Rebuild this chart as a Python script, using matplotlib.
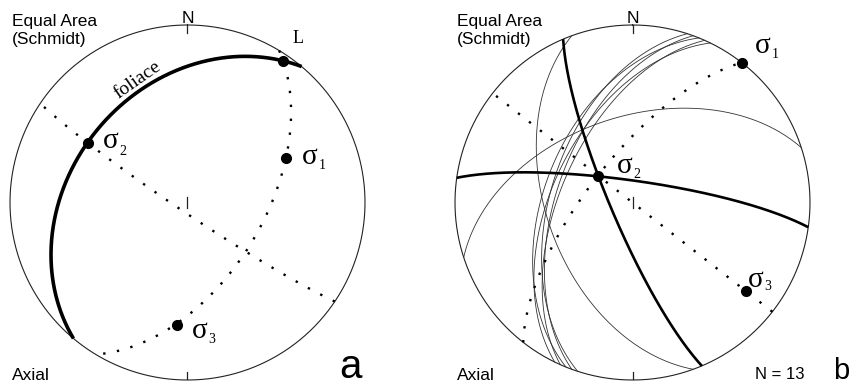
import numpy as np
import matplotlib.pyplot as plt

# figure size in pixels
W, H = 849, 385

# ---- panel a: foliation, lineation L and principal stresses (trend, plunge)
fol_strike, fol_dip = 220, 35
lin_trend, lin_plunge = 33.9, 4.4
sig_a_trend = [65.8, 301.1, 185.0]
sig_a_plunge = [39.2, 35.0, 31.3]

# ---- panel b: measured fault planes (strike RHR, dip) and stresses
thick_strike = [157, 278]
thick_dip = [80, 80]
thin_strike = [160, 252, 198, 200, 202, 204, 206]
thin_dip = [50, 50, 52, 55, 49, 57, 53]
sig_b_trend = [38.0, 307.7, 128.0]
sig_b_plunge = [0.0, 70.1, 20.1]
n_planes = 13

sig_names = ['1', '2', '3']

plt.rcParams['font.family'] = 'Liberation Sans'


def line_xy(trend, plunge):
    # lower hemisphere equal-area (Schmidt) projection
    t = np.radians(trend)
    p = np.radians(plunge)
    r = np.sqrt(2) * np.sin((np.pi / 2 - p) / 2)
    return r * np.sin(t), r * np.cos(t)


def plane_xy(strike, dip, n=400):
    s = np.radians(strike)
    d = np.radians(dip)
    rake = np.linspace(0, np.pi, n)
    sv = np.array([np.sin(s), np.cos(s), 0.0])
    dd = s + np.pi / 2
    dv = np.array([np.sin(dd) * np.cos(d), np.cos(dd) * np.cos(d), np.sin(d)])
    v = np.outer(np.cos(rake), sv) + np.outer(np.sin(rake), dv)
    trend = np.degrees(np.arctan2(v[:, 0], v[:, 1]))
    plunge = np.degrees(np.arcsin(np.clip(v[:, 2], -1, 1)))
    return line_xy(trend, plunge)


def pole_plane(trend, plunge):
    # plane (strike, dip) whose pole is the given line
    return (trend + 180 - 90) % 360, 90 - plunge


def stereo_axes(fig, cx, cy, R):
    ax = fig.add_axes([(cx - R) / W, (H - cy - R) / H, 2 * R / W, 2 * R / H])
    ax.set_xlim(-1, 1)
    ax.set_ylim(-1, 1)
    ax.axis('off')
    a = np.linspace(0, 2 * np.pi, 500)
    ax.plot(np.sin(a), np.cos(a), color='#222222', lw=0.8, clip_on=False)
    ax.plot([0, 0], [1, 0.955], color='#222222', lw=0.9)
    ax.plot([0, 0], [-1, -0.955], color='#222222', lw=0.9)
    ax.plot([0, 0], [-0.03, 0.03], color='#222222', lw=0.9)
    return ax


def dotted(ax, strike, dip):
    x, y = plane_xy(strike, dip)
    ax.plot(x, y, color='black', lw=1.7, linestyle=(0, (1, 4.9)),
            dash_capstyle='butt', clip_on=False)


def sigma_label(ax, x, y, name, off_s, off_n):
    ax.annotate('σ', xy=(x, y), xytext=(off_s[0], -off_s[1]),
                textcoords='offset pixels', fontsize=21,
                family='Liberation Serif', ha='left', va='baseline')
    ax.annotate(name, xy=(x, y), xytext=(off_n[0], -off_n[1]),
                textcoords='offset pixels', fontsize=10,
                family='Liberation Serif', ha='left', va='baseline')


def ftext(x, y, s, **kw):
    fig.text(x / W, 1 - y / H, s, **kw)


fig = plt.figure(figsize=(W / 100, H / 100), dpi=100)

# ================= panel a
ax1 = stereo_axes(fig, 187.5, 202.5, 177.5)

s2_strike, s2_dip = pole_plane(sig_a_trend[1], sig_a_plunge[1])
dotted(ax1, s2_strike, s2_dip)
l_strike, l_dip = pole_plane(lin_trend, lin_plunge)
dotted(ax1, l_strike, l_dip)

fx, fy = plane_xy(fol_strike, fol_dip)
ax1.plot(fx, fy, color='black', lw=2.6, solid_capstyle='butt')

lx, ly = line_xy(lin_trend, lin_plunge)
ax1.plot(lx, ly, 'o', color='black', ms=7, clip_on=False)

sx, sy = line_xy(np.array(sig_a_trend), np.array(sig_a_plunge))
ax1.plot(sx, sy, 'o', color='black', ms=7, clip_on=False)
offs_a = [((16.2, 5.7), (33.5, 10.7)),
          ((14.2, 5.3), (31.5, 12.3)),
          ((14.8, 13), (31.3, 18))]
for i in range(3):
    sigma_label(ax1, sx[i], sy[i], sig_names[i], offs_a[i][0], offs_a[i][1])

ftext(11.7, 26, 'Equal Area', fontsize=12.5, va='baseline')
ftext(11.7, 44, '(Schmidt)', fontsize=12.5, va='baseline')
ftext(187.7, 22.7, 'N', fontsize=12.5, ha='center', va='baseline')
ftext(11.7, 380, 'Axial', fontsize=12.5, va='baseline')
ftext(339, 378.5, 'a', fontsize=29, va='baseline')
ftext(293, 43.3, 'L', fontsize=13, family='Liberation Serif', va='baseline')
ftext(138, 80, 'foliace', fontsize=14, family='Liberation Serif',
      rotation=35, rotation_mode='anchor', ha='center', va='center')

# ================= panel b
ax2 = stereo_axes(fig, 632.5, 202.5, 177.5)

for st, dp in zip(thin_strike, thin_dip):
    x, y = plane_xy(st, dp)
    ax2.plot(x, y, color='#333333', lw=0.6)

s1_strike, s1_dip = pole_plane(sig_b_trend[0], sig_b_plunge[0])
dotted(ax2, s1_strike, s1_dip)
s3_strike, s3_dip = pole_plane(sig_b_trend[2], sig_b_plunge[2])
dotted(ax2, s3_strike, s3_dip)

for st, dp in zip(thick_strike, thick_dip):
    x, y = plane_xy(st, dp)
    ax2.plot(x, y, color='black', lw=1.9, solid_capstyle='butt')

sx, sy = line_xy(np.array(sig_b_trend), np.array(sig_b_plunge))
ax2.plot(sx, sy, 'o', color='black', ms=7, clip_on=False)
offs_b = [((12.8, -9.7), (30, -4.7)),
          ((18.2, -3), (35.5, 2)),
          ((1.8, -4), (18.3, -1))]
for i in range(3):
    sigma_label(ax2, sx[i], sy[i], sig_names[i], offs_b[i][0], offs_b[i][1])

ftext(456.7, 26, 'Equal Area', fontsize=12.5, va='baseline')
ftext(456.7, 44, '(Schmidt)', fontsize=12.5, va='baseline')
ftext(632.7, 22.7, 'N', fontsize=12.5, ha='center', va='baseline')
ftext(456.7, 380, 'Axial', fontsize=12.5, va='baseline')
ftext(755, 379.3, 'N = %d' % n_planes, fontsize=12, va='baseline')
ftext(833, 379.3, 'b', fontsize=21, va='baseline')

fig.savefig('out.png', dpi=100)
